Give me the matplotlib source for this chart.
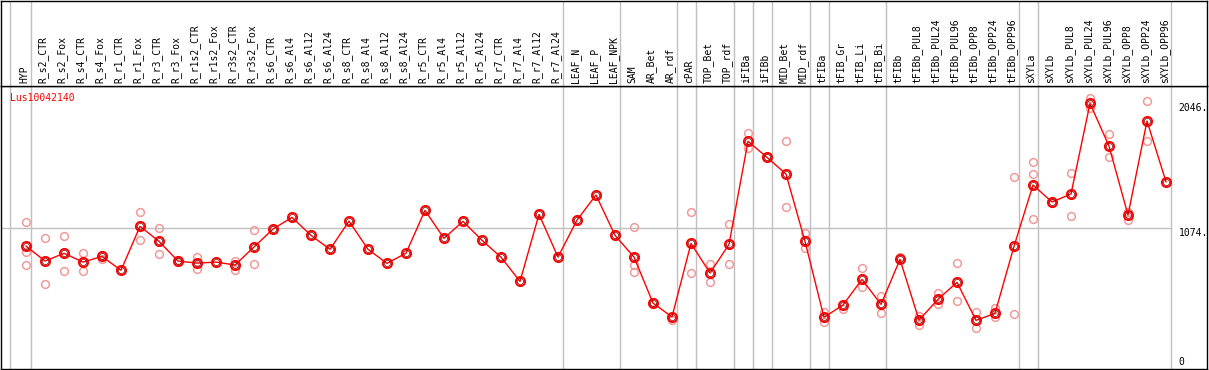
import matplotlib as mpl
import matplotlib.pyplot as plt
from matplotlib.transforms import blended_transform_factory

mpl.rcParams.update({"font.family": "DejaVu Sans Mono", "font.size": 7})

GENE = "Lus10042140"

samples = [
    "HYP",
    "R_s2_CTR", "R_s2_Fox", "R_s4_CTR", "R_s4_Fox", "R_r1_CTR", "R_r1_Fox",
    "R_r3_CTR", "R_r3_Fox", "R_r1s2_CTR", "R_r1s2_Fox", "R_r3s2_CTR", "R_r3s2_Fox",
    "R_s6_CTR", "R_s6_Al4", "R_s6_Al12", "R_s6_Al24",
    "R_s8_CTR", "R_s8_Al4", "R_s8_Al12", "R_s8_Al24",
    "R_r5_CTR", "R_r5_Al4", "R_r5_Al12", "R_r5_Al24",
    "R_r7_CTR", "R_r7_Al4", "R_r7_Al12", "R_r7_Al24",
    "LEAF_N", "LEAF_P", "LEAF_NPK",
    "SAM", "AR_Bet", "AR_rdf",
    "cPAR",
    "TOP_Bet", "TOP_rdf",
    "iFIBa",
    "iFIBb",
    "MID_Bet", "MID_rdf",
    "tFIBa",
    "tFIB_Gr", "tFIB_Li", "tFIB_Bi",
    "tFIBb", "tFIBb_PUL8", "tFIBb_PUL24", "tFIBb_PUL96",
    "tFIBb_OPP8", "tFIBb_OPP24", "tFIBb_OPP96",
    "sXYLa",
    "sXYLb", "sXYLb_PUL8", "sXYLb_PUL24", "sXYLb_PUL96",
    "sXYLb_OPP8", "sXYLb_OPP24", "sXYLb_OPP96",
]

means = [
    936,
    820, 880, 812, 856, 748, 1089, 973, 820, 804, 812, 789, 929,
    1068, 1159, 1019, 911, 1130, 911, 802, 881,
    1213, 996, 1128, 981, 850, 662, 1182, 851,
    1138, 1332, 1019,
    851, 494, 386,
    957,
    727, 949,
    1749,
    1624,
    1495, 973,
    383,
    479, 678, 484,
    833, 362, 523, 655, 360, 414, 934,
    1410,
    1278, 1340, 2043, 1712, 1177, 1906, 1435,
]

# individual replicates (light circles), empty where hidden behind the mean
replicates = [
    [1120, 887, 787],
    [996, 639], [1014, 742], [882, 742], [867, 836], [], [1203, 981],
    [1078, 872], [828, 812], [851, 760], [], [822, 750], [1058, 794],
    [], [], [], [], [], [], [], [],
    [], [], [], [], [], [], [], [],
    [], [], [],
    [1081, 790, 737], [500], [362],
    [1198, 725],
    [797, 655], [1105, 797],
    [1811, 1697],
    [1624],
    [1749, 1237], [1035, 918],
    [427, 347],
    [448], [763, 621], [548, 414],
    [849], [393, 326], [569, 484], [802, 507], [422, 298], [453, 388], [1472, 407],
    [1586, 1495, 1143],
    [1270], [1500, 1169], [2082, 2005], [1803, 1624], [1203, 1141], [2061, 1751], [],
]

# index of last sample in each group (-1 = left edge line)
group_ends = [-1, 0, 28, 31, 34, 35, 37, 38, 39, 41, 42, 45, 52, 53, 60]
y_ticks = [0, 1074, 2046]

W, H = 1209, 370
fig = plt.figure(figsize=(W / 100, H / 100), dpi=100)

left = 1 / W
width = (1207 - 1) / W
ax = fig.add_axes((left, (H - 368.7) / H, width, (368.7 - 85.7) / H))
lab = fig.add_axes((left, (H - 85.7) / H, width, (85.7 - 0.6) / H), sharex=ax)

xmin, xmax = (1 - 26) / 19, (1207 - 26) / 19
ax.set_xlim(xmin, xmax)
ax.set_ylim(-15, 2180)

grey = "#c0c0c0"
for g in group_ends:
    xg = g + 0.25 if g >= 0 else -0.84
    ax.axvline(xg, color=grey, lw=1, zorder=0)
    lab.axvline(xg, color=grey, lw=1, zorder=0)
x_end = group_ends[-1] + 0.25
ax.hlines(1074, xmin, x_end, color=grey, lw=1, zorder=0)

xs = list(range(len(samples)))
for i, reps in enumerate(replicates):
    if reps:
        ax.plot([i] * len(reps), reps, "o", ms=5.6, mfc="none", mec="#f09a9a",
                mew=1.1, zorder=2, clip_on=False)
ax.plot(xs, means, "-", color="#ff0000", lw=1, zorder=3)
ax.plot(xs, means, "o", ms=6.6, mfc="none", mec="#ff0000", mew=1.4, zorder=4)
ax.plot(xs, means, "o", ms=4.4, mfc="none", mec="#700000", mew=0.5, zorder=5)

ax.annotate(GENE, xy=(0, 1), xycoords="axes fraction", xytext=(6.5, -8.5),
            textcoords="offset points", color="#ff0000", va="center", ha="left")

tr = blended_transform_factory(ax.transData, ax.transData)
for v in y_ticks:
    txt = "0" if v == 0 else f"{v}."
    ax.text(x_end + 0.42, v, txt, transform=tr, ha="left",
            va="bottom" if v == 0 else "top", color="black")

for i, name in enumerate(samples):
    lab.text(i - 0.1, 0.035, name, rotation=90, ha="center", va="bottom")

for a in (ax, lab):
    a.set_xticks([])
    a.set_yticks([])
    for s in a.spines.values():
        s.set_color("black")
        s.set_linewidth(1.0)
    a.patch.set_facecolor("white")
lab.set_ylim(0, 1)

fig.savefig("out.png", dpi=100)
